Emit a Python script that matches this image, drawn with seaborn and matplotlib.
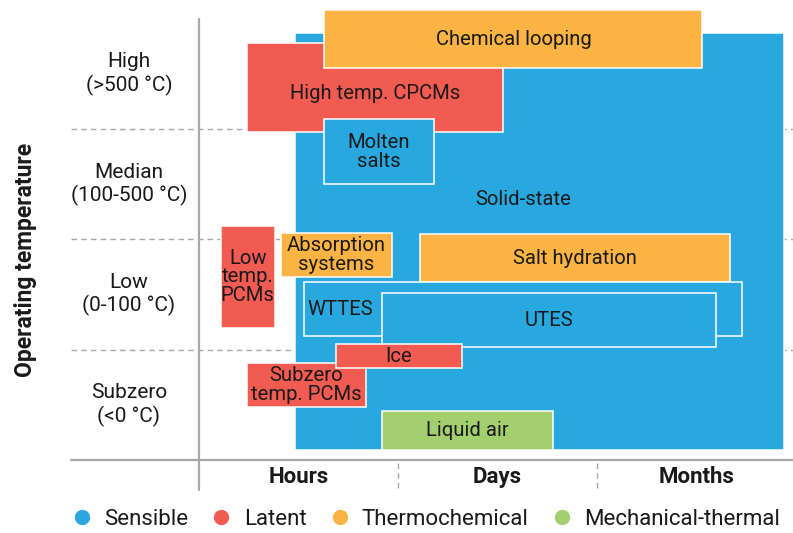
import numpy as np
import pandas as pd
import matplotlib.pyplot as plt
from matplotlib.lines import Line2D
import seaborn as sns

# storage technologies: duration span (0-1 hours, 1-2 days, 2-3 months)
# and temperature span (0-1 subzero, 1-2 low, 2-3 median, 3-4 high)
names = ["Solid-state", "High temp. CPCMs", "Chemical looping", "Molten\nsalts",
         "Low\ntemp.\nPCMs", "Absorption\nsystems", "Salt hydration", "WTTES",
         "UTES", "Subzero\ntemp. PCMs", "Ice", "Liquid air"]
kinds = ["Sensible", "Latent", "Thermochemical", "Sensible",
         "Latent", "Thermochemical", "Thermochemical", "Sensible",
         "Sensible", "Latent", "Latent", "Mechanical-thermal"]
dur_start = [0.48, 0.24, 0.63, 0.63, 0.11, 0.41, 1.11, 0.53, 0.92, 0.24, 0.69, 0.92]
dur_end = [2.94, 1.53, 2.53, 1.18, 0.38, 0.97, 2.67, 2.73, 2.60, 0.84, 1.32, 1.78]
temp_start = [0.09, 2.97, 3.55, 2.50, 1.20, 1.66, 1.61, 1.12, 1.02, 0.48, 0.83, 0.09]
temp_end = [3.87, 3.78, 4.08, 3.09, 2.12, 2.06, 2.05, 1.61, 1.51, 0.88, 1.05, 0.44]
# label positions (None = centre of box)
label_x = [1.63, None, None, None, None, None, None, 0.71, None, None, None, None]
label_y = [2.36, 3.32, None, None, None, None, None, None, None, None, None, None]

durations = ["Hours", "Days", "Months"]
temp_levels = ["Subzero\n(<0 °C)", "Low\n(0-100 °C)", "Median\n(100-500 °C)", "High\n(>500 °C)"]
kind_order = ["Sensible", "Latent", "Thermochemical", "Mechanical-thermal"]
kind_colors = ["#29A8E0", "#F15B52", "#FBB343", "#A3CF6E"]

df = pd.DataFrame({"name": names, "kind": kinds, "x0": dur_start, "x1": dur_end,
                   "y0": temp_start, "y1": temp_end})

sns.set_theme(style="white")
plt.rcParams['font.family'] = ['Roboto', 'DejaVu Sans']
palette = dict(zip(kind_order, sns.color_palette(kind_colors)))

fig = plt.figure(figsize=(7.93, 5.33), dpi=100)
ax = fig.add_axes([0, 0, 1, 1])
ax.set_xlim(-1.0, 2.985)
ax.set_ylim(-0.662, 4.17)
ax.axis("off")

grey = "#a8a8a8"
txt = "#1a1a1a"
# grid / axes
for lvl in range(1, 4):
    ax.plot([-0.643, 2.99], [lvl, lvl], color=grey, lw=1, ls=(0, (4, 3)), zorder=0)
ax.plot([-0.643, 3.0], [0, 0], color=grey, lw=1.6, zorder=0)
ax.plot([0, 0], [-0.272, 4.0], color=grey, lw=1.6, zorder=0)
for d in range(1, 3):
    ax.plot([d, d], [-0.03, -0.27], color=grey, lw=1, ls=(0, (4, 3)), zorder=0)

# boxes
for i, row in df.iterrows():
    ax.bar(row.x0, row.y1 - row.y0, width=row.x1 - row.x0, bottom=row.y0, align="edge",
           color=palette[row.kind], edgecolor="white", linewidth=1.1, zorder=2 + i)
    lx = label_x[i] if label_x[i] is not None else (row.x0 + row.x1) / 2
    ly = label_y[i] if label_y[i] is not None else (row.y0 + row.y1) / 2
    ax.text(lx, ly, row["name"], ha="center", va="center", fontsize=14.6,
            color=txt, linespacing=0.98, zorder=30)

# category labels
for j, d in enumerate(durations):
    ax.text(j + 0.5, -0.154, d, ha="center", va="center", fontsize=16,
            fontweight="bold", color=txt)
for j, t in enumerate(temp_levels):
    ax.text(-0.352, j + 0.5, t, ha="center", va="center", fontsize=15,
            color=txt, linespacing=1.2)
ax.text(-0.874, 1.81, "Operating temperature", rotation=90, ha="center", va="center",
        fontsize=16.5, fontweight="bold", color=txt)

handles = [Line2D([0], [0], marker="o", ls="", markersize=11, markerfacecolor=palette[k],
                  markeredgecolor="none", label=k) for k in kind_order]
ax.legend(handles=handles, loc="center", bbox_to_anchor=(0.535, 0.026), ncol=4,
          frameon=False, fontsize=16, handletextpad=0.4, columnspacing=0.9,
          handlelength=1.2, labelcolor=txt)

plt.savefig("out.png", dpi=100)
